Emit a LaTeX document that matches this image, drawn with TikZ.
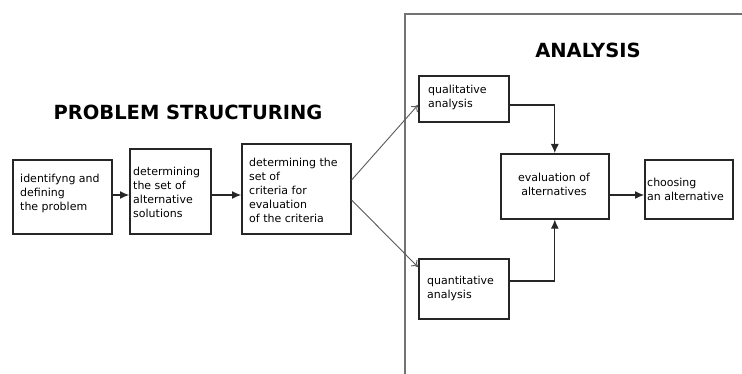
\documentclass[tikz,border=0pt]{standalone}
\usepackage{fontspec}
\setmainfont{DejaVu Sans}
\usetikzlibrary{arrows.meta}
\begin{document}
\begin{tikzpicture}[x=1pt,y=-1pt,
  box/.style={draw=black!85,line width=1.6pt,inner sep=0pt,anchor=north west},
  txt/.style={align=left,anchor=west,inner sep=0pt,font=\fontsize{11}{14}\selectfont},
  title/.style={font=\fontsize{19.5}{22}\bfseries\selectfont},
  flow/.style={line width=1.1pt,black!85,-{Latex[length=9pt,width=8pt]}},
  split/.style={line width=0.9pt,black!65,-{To[length=6pt,width=9pt]}}]
\useasboundingbox (0,0) rectangle (742,374);
\draw[line width=1.3pt,black!55] (405,374) coordinate (fb) -- (405,14) coordinate (ftl) -- (742,14) coordinate (ftr);
\node[title] (ps) at (188,112) {PROBLEM STRUCTURING};
\node[title] (an) at (588,50) {ANALYSIS};
% boxes
\node[box,minimum width=99pt,minimum height=74pt] (b1) at (12,159) {};
\node[txt] (t1) at (20,193) {identifyng and\\defining\\the problem};
\node[box,minimum width=81pt,minimum height=85pt] (b2) at (129,148) {};
\node[txt] (t2) at (133,192) {determining\\the set of\\alternative\\solutions};
\node[box,minimum width=109pt,minimum height=90pt] (b3) at (241,143) {};
\node[txt] (t3) at (249,190) {determining the\\set of\\criteria for\\evaluation\\of the criteria};
\node[box,minimum width=90pt,minimum height=46pt] (ql) at (418,75) {};
\node[txt] (tql) at (428,97) {qualitative\\analysis};
\node[box,minimum width=90pt,minimum height=60pt] (qn) at (418,258) {};
\node[txt] (tqn) at (427,288) {quantitative\\analysis};
\node[box,minimum width=108pt,minimum height=65pt] (ev) at (500,153) {};
\node[txt,align=center,anchor=center] (tev) at (554,184) {evaluation of\\alternatives};
\node[box,minimum width=88pt,minimum height=59pt] (ch) at (644,159) {};
\node[txt] (tch) at (647,189) {choosing\\an alternative};
% connectors
\draw[flow] (b1.east |- 0,195) -- (b2.west |- 0,195);
\draw[flow] (b2.east |- 0,195) -- (b3.west |- 0,195);
\draw[split] ([yshift=-37pt]b3.north east) -- ([yshift=-30pt]ql.north west);
\draw[split] ([yshift=-57pt]b3.north east) -- ([yshift=-9pt]qn.north west);
\draw[flow] (ql.east |- 0,105) -| (ev.north);
\draw[flow] (qn.east |- 0,281) -| (ev.south);
\draw[flow] (ev.east |- 0,195) -- (ch.west |- 0,195);
\end{tikzpicture}
\end{document}
